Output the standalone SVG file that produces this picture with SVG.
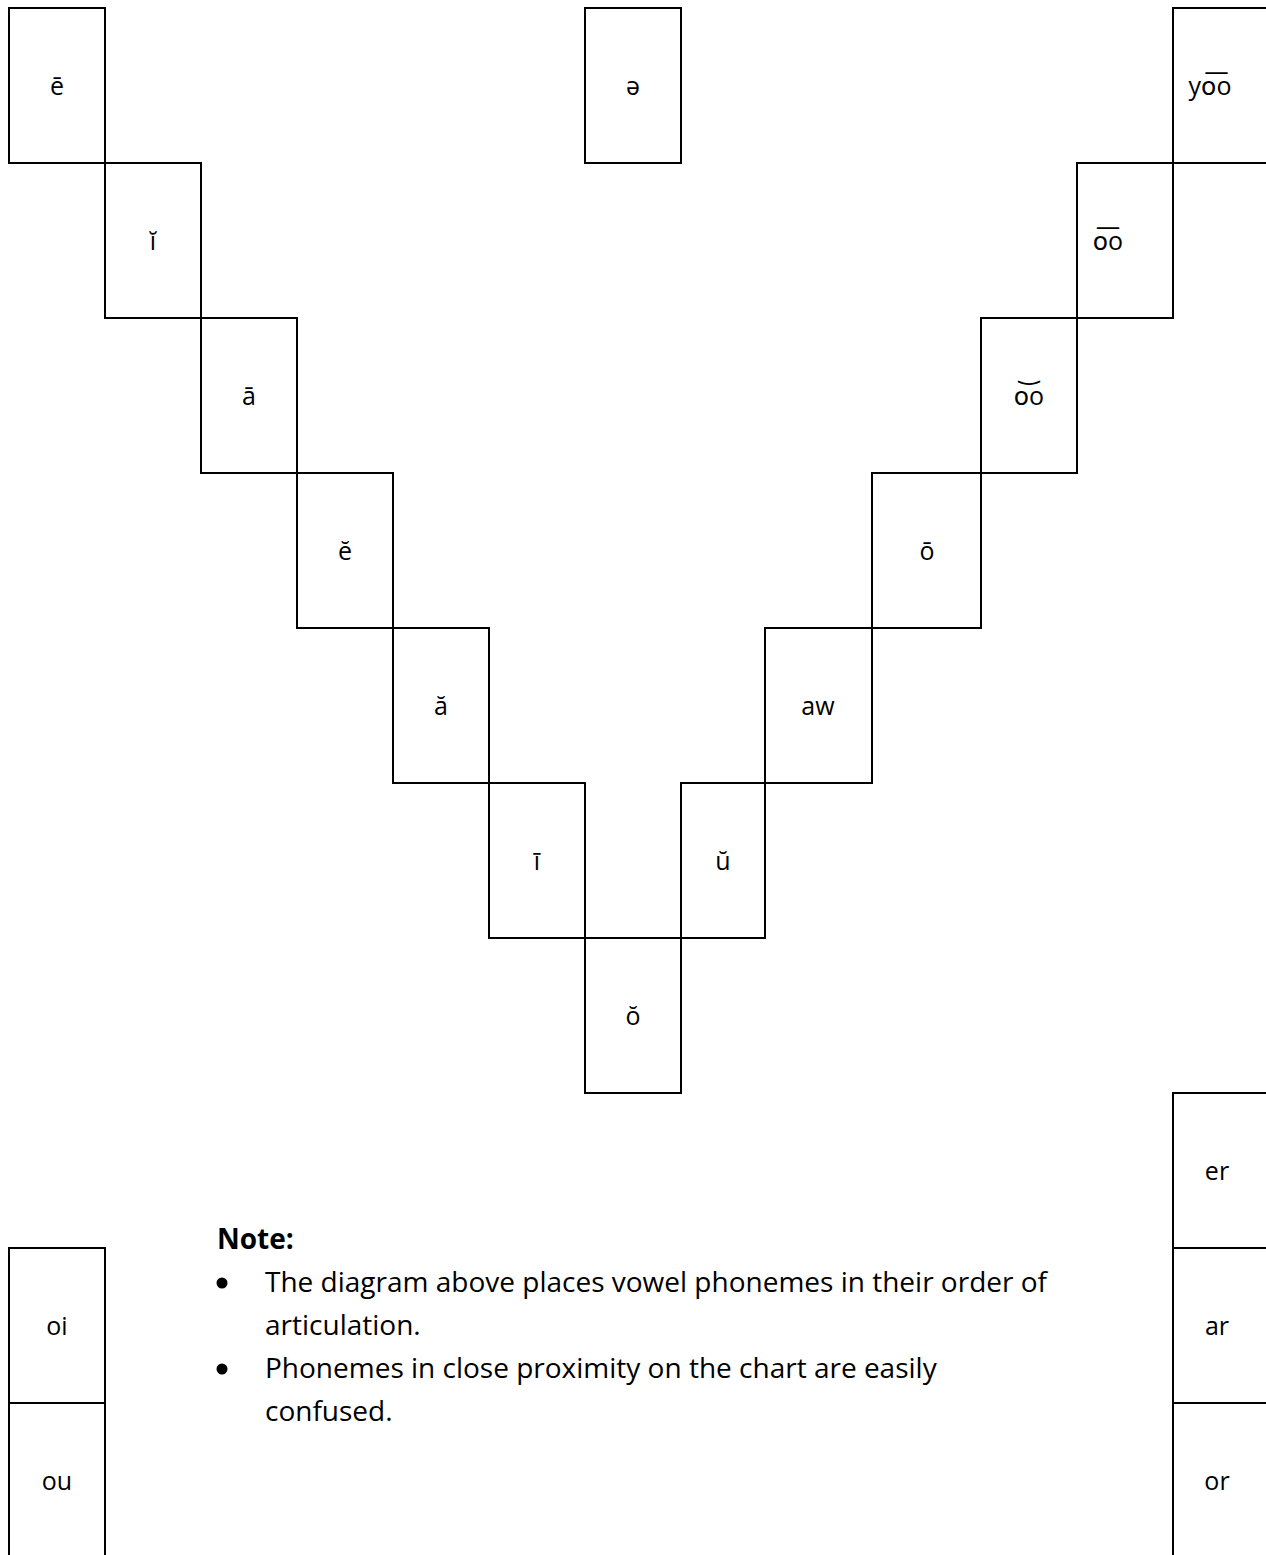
<svg xmlns="http://www.w3.org/2000/svg" width="1266" height="1555" viewBox="0 0 1266 1555">
<style>
.box{fill:none;stroke:#000;stroke-width:2}
.lbl{font-family:"Open Sans","DejaVu Sans",sans-serif;font-size:25px;fill:#000;text-anchor:middle}
.note{font-family:"Open Sans","DejaVu Sans",sans-serif;font-size:28px;fill:#000}
</style>
<rect width="1266" height="1555" fill="#fff"/>
<g id="n-e-long"><rect class="box" x="9" y="8" width="96" height="155"/><text class="lbl" x="57" y="95">ē</text></g>
<g id="n-i-short"><rect class="box" x="105" y="163" width="96" height="155"/><text class="lbl" x="153" y="250">ĭ</text></g>
<g id="n-a-long"><rect class="box" x="201" y="318" width="96" height="155"/><text class="lbl" x="249" y="405">ā</text></g>
<g id="n-e-short"><rect class="box" x="297" y="473" width="96" height="155"/><text class="lbl" x="345" y="560">ĕ</text></g>
<g id="n-a-short"><rect class="box" x="393" y="628" width="96" height="155"/><text class="lbl" x="441" y="715">ă</text></g>
<g id="n-i-long"><rect class="box" x="489" y="783" width="96" height="155"/><text class="lbl" x="537" y="870">ī</text></g>
<g id="n-o-short"><rect class="box" x="585" y="938" width="96" height="155"/><text class="lbl" x="633" y="1025">ŏ</text></g>
<g id="n-u-short"><rect class="box" x="681" y="783" width="84" height="155"/><text class="lbl" x="723" y="870">ŭ</text></g>
<g id="n-aw"><rect class="box" x="765" y="628" width="107" height="155"/><text class="lbl" x="818" y="715">aw</text></g>
<g id="n-o-long"><rect class="box" x="872" y="473" width="109" height="155"/><text class="lbl" x="927" y="560">ō</text></g>
<g id="n-oo-short"><rect class="box" x="981" y="318" width="96" height="155"/><text class="lbl" x="1029" y="405">o͝o</text></g>
<g id="n-oo-long"><rect class="box" x="1077" y="163" width="96" height="155"/><text class="lbl" x="1108" y="250">o͞o</text></g>
<g id="n-yoo"><rect class="box" x="1173" y="8" width="110" height="155"/><text class="lbl" x="1210" y="95">yo͞o</text></g>
<g id="n-schwa"><rect class="box" x="585" y="8" width="96" height="155"/><text class="lbl" x="633" y="95">ə</text></g>
<g id="n-er"><rect class="box" x="1173" y="1093" width="110" height="155"/><text class="lbl" x="1217" y="1180">er</text></g>
<g id="n-ar"><rect class="box" x="1173" y="1248" width="110" height="155"/><text class="lbl" x="1217" y="1335">ar</text></g>
<g id="n-or"><rect class="box" x="1173" y="1403" width="110" height="200"/><text class="lbl" x="1217" y="1490">or</text></g>
<g id="n-oi"><rect class="box" x="9" y="1248" width="96" height="155"/><text class="lbl" x="57" y="1335">oi</text></g>
<g id="n-ou"><rect class="box" x="9" y="1403" width="96" height="200"/><text class="lbl" x="57" y="1490">ou</text></g>
<g id="connectors"></g>
<g id="note">
<text class="note" x="217" y="1249" font-weight="bold">Note:</text>
<circle cx="222" cy="1283" r="5.5" fill="#000"/>
<text class="note" x="265" y="1292">The diagram above places vowel phonemes in their order of</text>
<text class="note" x="265" y="1335">articulation.</text>
<circle cx="222" cy="1369" r="5.5" fill="#000"/>
<text class="note" x="265" y="1378">Phonemes in close proximity on the chart are easily</text>
<text class="note" x="265" y="1421">confused.</text>
</g>
</svg>
